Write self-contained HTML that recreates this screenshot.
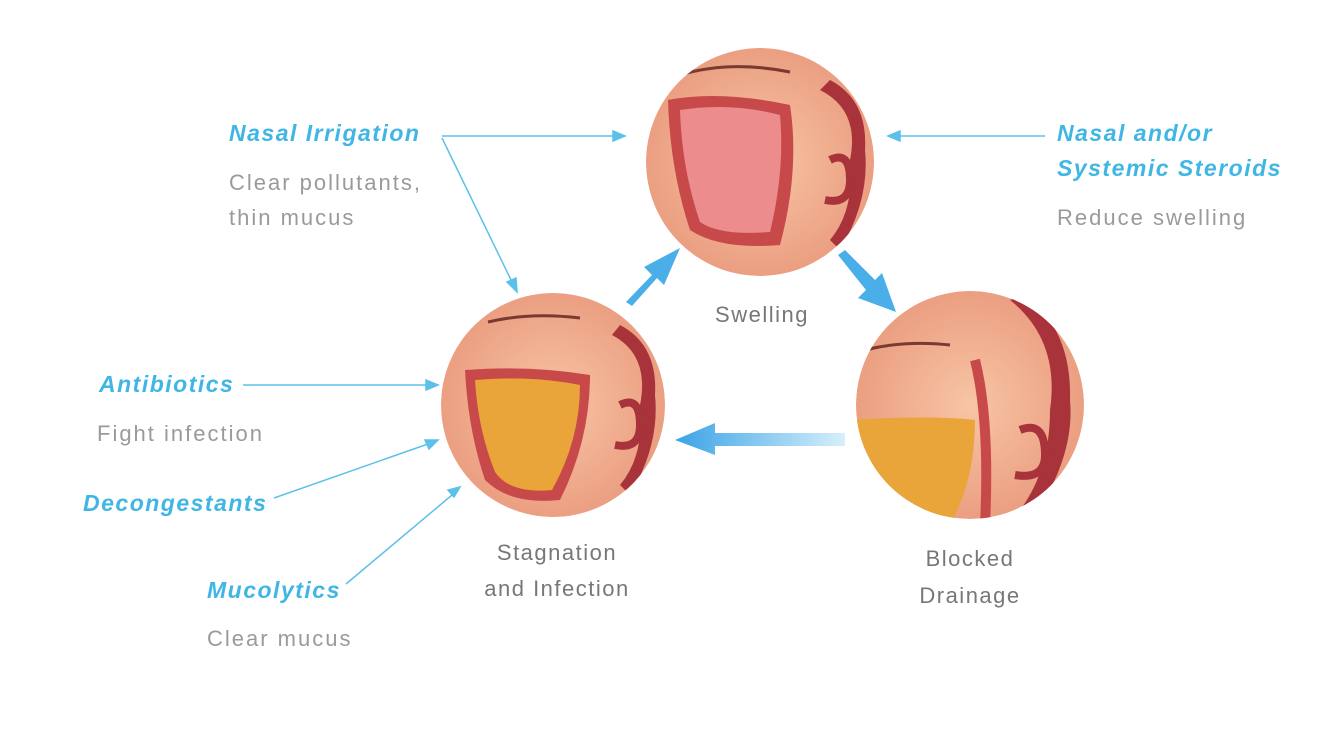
<!DOCTYPE html>
<html><head><meta charset="utf-8"><style>
html,body{margin:0;padding:0;background:#fff;}
svg{display:block;}
.t{font-family:"Liberation Sans",sans-serif;font-style:italic;font-weight:bold;fill:#3fb6e4;font-size:23px;letter-spacing:1.5px;}
.g{font-family:"Liberation Sans",sans-serif;fill:#9a9a9a;font-size:22px;letter-spacing:2px;}
.c{font-family:"Liberation Sans",sans-serif;fill:#777;font-size:22px;text-anchor:middle;letter-spacing:1.5px;}
</style></head><body>
<svg width="1324" height="752" viewBox="0 0 1324 752" xmlns="http://www.w3.org/2000/svg">
<defs>
<radialGradient id="skin" cx="0.5" cy="0.5" r="0.6"><stop offset="0" stop-color="#f7c5a5"/><stop offset="1" stop-color="#e9977a"/></radialGradient>
<linearGradient id="arr" x1="1" x2="0"><stop offset="0" stop-color="#d6effb"/><stop offset="1" stop-color="#3ba3e6"/></linearGradient>
<clipPath id="c1"><circle cx="760" cy="162" r="114"/></clipPath>
<clipPath id="c2"><circle cx="553" cy="405" r="112"/></clipPath>
<clipPath id="c3"><circle cx="970" cy="405" r="114"/></clipPath>
</defs>
<!-- Swelling -->
<g clip-path="url(#c1)">
<circle cx="760" cy="162" r="114" fill="url(#skin)"/>
<path d="M668 100 Q720 90 790 105 Q800 170 780 245 Q720 250 690 230 Q670 170 668 100Z" fill="#c8494a"/>
<path d="M680 110 Q730 102 780 115 Q785 170 770 232 Q720 236 700 222 Q682 170 680 110Z" fill="#ec8c8c"/>
<path d="M820 90 Q860 110 850 160 Q855 210 830 240 L840 250 Q870 200 865 150 Q868 100 830 80Z" fill="#a8333a"/>
<path d="M830 160 Q850 150 850 180 Q850 205 825 200" fill="none" stroke="#a8333a" stroke-width="8"/>
<path d="M680 75 Q730 60 790 72" fill="none" stroke="#7a3a30" stroke-width="3"/>
</g>
<!-- Stagnation -->
<g clip-path="url(#c2)">
<circle cx="553" cy="405" r="112" fill="url(#skin)"/>
<path d="M465 370 Q530 365 590 375 Q590 440 560 500 Q510 505 485 480 Q468 430 465 370Z" fill="#c8494a"/>
<path d="M475 380 Q530 375 580 385 Q580 440 552 490 Q510 494 495 472 Q478 430 475 380Z" fill="#e9a43a"/>
<path d="M612 335 Q650 355 640 405 Q645 455 620 485 L630 495 Q660 445 655 395 Q658 345 620 325Z" fill="#a8333a"/>
<path d="M620 405 Q640 395 640 425 Q640 450 615 445" fill="none" stroke="#a8333a" stroke-width="8"/>
<path d="M488 322 Q530 312 580 318" fill="none" stroke="#7a3a30" stroke-width="3"/>
</g>
<!-- Blocked -->
<g clip-path="url(#c3)">
<circle cx="970" cy="405" r="114" fill="url(#skin)"/>
<path d="M850 420 Q930 415 975 420 Q975 480 950 525 L850 525Z" fill="#e9a43a"/>
<path d="M1010 300 Q1060 340 1050 410 Q1050 470 1020 510 L1035 515 Q1075 455 1070 400 Q1072 330 1025 295Z" fill="#a8333a"/>
<path d="M975 360 Q990 420 985 525" fill="none" stroke="#c8494a" stroke-width="10"/>
<path d="M1020 430 Q1045 420 1045 455 Q1045 480 1015 475" fill="none" stroke="#a8333a" stroke-width="8"/>
<path d="M865 350 Q905 340 950 345" fill="none" stroke="#7a3a30" stroke-width="3"/>
</g>
<!-- cycle arrows -->
<polygon points="626,302 652,275 644,267 680,248 664,285 657,278 632,306" fill="#4aaee8"/>
<polygon points="838,255 845,250 875,280 882,273 896,312 858,298 866,290" fill="#4aaee8"/>
<polygon points="845,433 715,433 715,423 675,440 715,455 715,446 845,446" fill="url(#arr)"/>
<!-- thin connectors -->
<g stroke="#5cc0ea" stroke-width="1.5" fill="#5cc0ea">
<line x1="442" y1="136" x2="615" y2="136"/><polygon points="625,136 613,131 613,141"/>
<line x1="442" y1="138" x2="512" y2="282"/><polygon points="517,292 507,282 516,278"/>
<line x1="1045" y1="136" x2="898" y2="136"/><polygon points="888,136 900,131 900,141"/>
<line x1="243" y1="385" x2="428" y2="385"/><polygon points="438,385 426,380 426,390"/>
<line x1="274" y1="498" x2="428" y2="444"/><polygon points="438,440 425,440 429,449"/>
<line x1="346" y1="584" x2="452" y2="495"/><polygon points="460,487 448,490 454,497"/>
</g>
<!-- labels -->
<text class="t" x="229" y="141">Nasal Irrigation</text>
<text class="g" x="229" y="190">Clear pollutants,</text>
<text class="g" x="229" y="225">thin mucus</text>
<text class="t" x="1057" y="141">Nasal and/or</text>
<text class="t" x="1057" y="176">Systemic Steroids</text>
<text class="g" x="1057" y="225">Reduce swelling</text>
<text class="t" x="99" y="392">Antibiotics</text>
<text class="g" x="97" y="441">Fight infection</text>
<text class="t" x="83" y="511">Decongestants</text>
<text class="t" x="207" y="598">Mucolytics</text>
<text class="g" x="207" y="646">Clear mucus</text>
<text class="c" x="762" y="322">Swelling</text>
<text class="c" x="557" y="560">Stagnation</text>
<text class="c" x="557" y="596">and Infection</text>
<text class="c" x="970" y="566">Blocked</text>
<text class="c" x="970" y="603">Drainage</text>
</svg>
</body></html>
